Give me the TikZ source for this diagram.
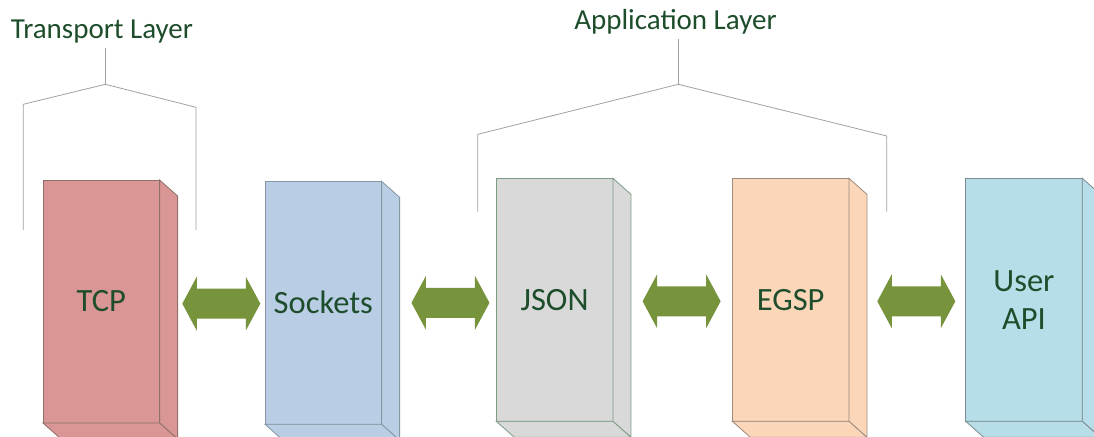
\documentclass[tikz,border=0pt]{standalone}
\usepackage{fontspec}
\setmainfont{Carlito}
\usetikzlibrary{calc}

\definecolor{txtgreen}{HTML}{1E4D2B}
\definecolor{arrowgreen}{HTML}{77933C}
\definecolor{bracketgray}{HTML}{A0A0A0}
\definecolor{tcpfill}{HTML}{D99694}
\definecolor{tcpline}{HTML}{8E7069}
\definecolor{sockfill}{HTML}{B9CDE5}
\definecolor{sockline}{HTML}{8497A3}
\definecolor{jsonfill}{HTML}{D9D9D9}
\definecolor{jsonline}{HTML}{7D9A83}
\definecolor{egspfill}{HTML}{FBD6B9}
\definecolor{egspline}{HTML}{9C8A7C}
\definecolor{apifill}{HTML}{B7DEE8}
\definecolor{apiline}{HTML}{7B8C8F}

\tikzset{
  layerbox/.style={rectangle, anchor=north west, inner sep=0pt, outer sep=0pt,
    minimum width=116.6pt, minimum height=243pt, line width=0.8pt,
    text=txtgreen, font=\fontsize{32.5}{38}\selectfont, align=center},
  tcpbox/.style={fill=tcpfill, draw=tcpline, line width=0.8pt},
  sockbox/.style={fill=sockfill, draw=sockline, line width=0.8pt},
  jsonbox/.style={fill=jsonfill, draw=jsonline, line width=0.8pt},
  egspbox/.style={fill=egspfill, draw=egspline, line width=0.8pt},
  apibox/.style={fill=apifill, draw=apiline, line width=0.8pt},
  bracket/.style={draw=bracketgray, line width=0.8pt},
  layerlabel/.style={anchor=base, text=txtgreen, font=\fontsize{29}{34}\selectfont, inner sep=0pt},
  dblarrow/.style={fill=arrowgreen},
}

% side and bottom faces of a box drawn as a cube
\newcommand\cubefaces[2]{%
  \filldraw[#2] (#1.north east) -- ++(18,16) -- ($(#1.south east)+(18,16)$) -- (#1.south east) -- cycle;
  \filldraw[#2] (#1.south west) -- (#1.south east) -- ++(18,16) -- ($(#1.south west)+(18,16)$) -- cycle;
}

% double-headed block arrow between two boxes
\newcommand\linkarrow[4][0]{%
  \coordinate (#2) at ($(#3.east)!0.5!(#4.west)+(9+#1,1.5)$);
  \fill[dblarrow] (#2) ++(-39,0) -- ++(14.5,-27) -- ++(0,12) -- ++(49,0) -- ++(0,-12)
    -- ++(14.5,27) -- ++(-14.5,27) -- ++(0,-12) -- ++(-49,0) -- ++(0,12) -- cycle;
}

\begin{document}
\begin{tikzpicture}[x=1pt,y=-1pt]
\useasboundingbox (0,0) rectangle (1094,436);
\clip (0,0) rectangle (1094,436);

% boxes
\node[layerbox, tcpbox]  (tcp)  at (43,180)     {TCP};
\node[layerbox, sockbox] (sock) at (265,181.3)  {Sockets};
\node[layerbox, jsonbox] (json) at (496.3,178.3) {JSON};
\node[layerbox, egspbox] (egsp) at (732.3,178.3) {EGSP};
\node[layerbox, apibox]  (api)  at (965.7,178.3) {User\\API};

\cubefaces{tcp}{tcpbox}
\cubefaces{sock}{sockbox}
\cubefaces{json}{jsonbox}
\cubefaces{egsp}{egspbox}
\cubefaces{api}{apibox}

% arrows
\linkarrow{a1}{tcp}{sock}
\linkarrow[2.5]{a2}{sock}{json}
\linkarrow{a3}{json}{egsp}
\linkarrow{a4}{egsp}{api}

% transport layer bracket
\node[layerlabel] (tl) at (102,38.3) {Transport Layer};
\coordinate (tstem) at (105.3,48.3);
\coordinate (tjoin) at (105.3,84.3);
\coordinate (tlc) at (23.3,104.3);
\coordinate (tlb) at (23.3,230);
\coordinate (trc) at (196,107.3);
\coordinate (trb) at (196,230);
\draw[bracket] (tstem) -- (tjoin);
\draw[bracket] (tlb) -- (tlc) -- (tjoin) -- (trc) -- (trb);

% application layer bracket
\node[layerlabel] (al) at (675.5,29.3) {Application Layer};
\coordinate (astem) at (678.3,39.3);
\coordinate (ajoin) at (678.3,84.3);
\coordinate (alc) at (477.7,134.3);
\coordinate (alb) at (477.7,211.7);
\coordinate (arc) at (886.7,136);
\coordinate (arb) at (886.7,211.7);
\draw[bracket] (astem) -- (ajoin);
\draw[bracket] (alb) -- (alc) -- (ajoin) -- (arc) -- (arb);
\end{tikzpicture}
\end{document}
